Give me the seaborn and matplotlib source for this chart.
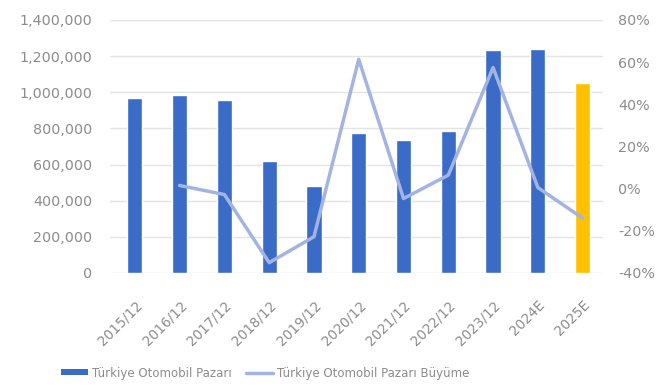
import numpy as np
import pandas as pd
import matplotlib
matplotlib.use("Agg")
import matplotlib.pyplot as plt
import seaborn as sns
from matplotlib.patches import Patch
from matplotlib.lines import Line2D
from matplotlib.ticker import FuncFormatter, MultipleLocator

categories = ["2015/12", "2016/12", "2017/12", "2018/12", "2019/12", "2020/12",
              "2021/12", "2022/12", "2023/12", "2024E", "2025E"]
market = [969194, 983720, 956194, 620937, 479060, 772788,
          736276, 783283, 1232735, 1240000, 1050000]
growth = [np.nan, 1.5, -2.8, -35.1, -22.8, 61.3, -4.7, 6.4, 57.4, 0.5, -14.0]
bar_colors = ["#3A6BC6"] * 10 + ["#FFC000"]

sns.set_theme(style="white")
plt.rcParams["font.family"] = ["DejaVu Sans"]
text_color = "#8C8C8C"

fig = plt.figure(figsize=(6.72, 3.9), dpi=100)
ax = fig.add_axes([0.164, 0.30, 0.733, 0.649])

df = pd.DataFrame({"cat": categories, "val": market})
sns.barplot(data=df, x="cat", y="val", hue="cat", palette=bar_colors,
            legend=False, width=0.34, ax=ax, saturation=1)
ax.set_ylim(0, 1400000)
ax.yaxis.set_major_locator(MultipleLocator(200000))
ax.yaxis.set_major_formatter(FuncFormatter(lambda v, p: f"{int(v):,}"))
ax.set_xlabel("")
ax.set_ylabel("")
ax.grid(axis="y", color="#E3E3E3", linewidth=1)
ax.set_axisbelow(True)
for s in ax.spines.values():
    s.set_visible(False)
ax.tick_params(axis="y", colors=text_color, labelsize=10.3, length=0, pad=13)
ax.tick_params(axis="x", colors=text_color, labelsize=9.8, length=0, pad=18)
plt.setp(ax.get_xticklabels(), rotation=45, ha="right", rotation_mode="anchor")
ax.set_xlim(-0.55, 10.45)

ax2 = ax.twinx()
gdf = pd.DataFrame({"x": np.arange(len(categories)), "g": growth})
sns.lineplot(data=gdf, x="x", y="g", ax=ax2, color="#A3B4E2", linewidth=2.5)
ax2.set_ylim(-40, 80)
ax2.yaxis.set_major_locator(MultipleLocator(20))
ax2.yaxis.set_major_formatter(FuncFormatter(lambda v, p: f"{int(round(v))}%"))
ax2.set_xlabel("")
ax2.set_ylabel("")
for s in ax2.spines.values():
    s.set_visible(False)
ax2.tick_params(axis="y", colors=text_color, labelsize=10.3, length=0, pad=11)
ax2.set_xlim(-0.55, 10.45)

handles = [Patch(facecolor="#3A6BC6", edgecolor="none"),
           Line2D([0], [0], color="#A3B4E2", linewidth=2.5)]
labels = ["Türkiye Otomobil Pazarı", "Türkiye Otomobil Pazarı Büyüme"]
fig.legend(handles, labels, loc="center left", bbox_to_anchor=(50 / 672, 1 - 373 / 390),
           ncol=2, frameon=False, fontsize=8.5, labelcolor=text_color,
           handlelength=2.3, handleheight=0.45, columnspacing=1.2, handletextpad=0.35)

fig.savefig("out.png", dpi=100)
